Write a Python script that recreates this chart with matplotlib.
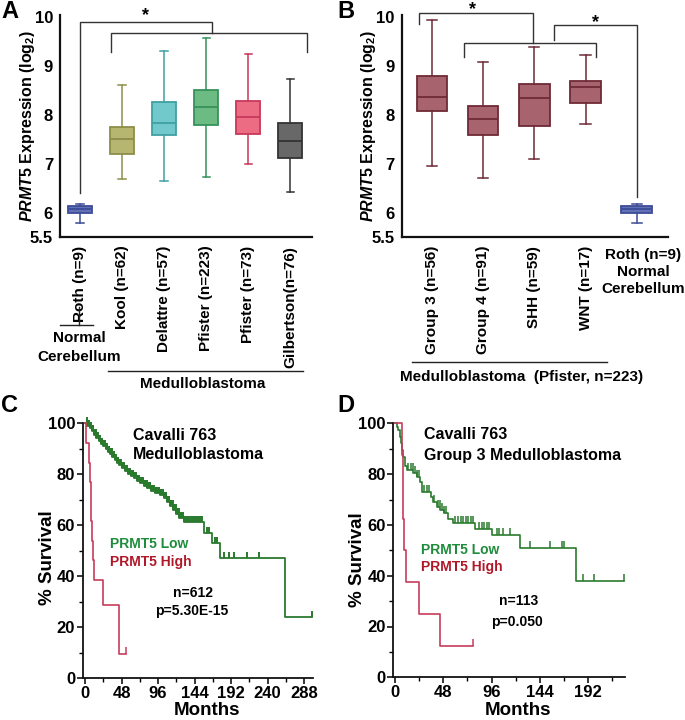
import numpy as np
import matplotlib
matplotlib.use('Agg')
import matplotlib.pyplot as plt
from matplotlib.lines import Line2D

plt.rcParams['font.family'] = ['Liberation Sans', 'DejaVu Sans']
plt.rcParams['font.weight'] = 'bold'
plt.rcParams['mathtext.fontset'] = 'custom'
plt.rcParams['mathtext.rm'] = 'Liberation Sans:bold'
plt.rcParams['mathtext.it'] = 'Liberation Sans:italic:bold'
plt.rcParams['mathtext.bf'] = 'Liberation Sans:bold'

# ---------------- Panel A data ----------------
a_labels = ['Roth (n=9)', 'Kool (n=62)', 'Delattre (n=57)', 'Pfister (n=223)',
            'Pfister (n=73)', 'Gilbertson(n=76)']
a_whislo = [5.80, 6.69, 6.66, 6.73, 7.00, 6.42]
a_q1 = [5.99, 7.20, 7.58, 7.79, 7.61, 7.11]
a_med = [6.07, 7.50, 7.84, 8.16, 7.95, 7.46]
a_q3 = [6.13, 7.76, 8.27, 8.51, 8.29, 7.83]
a_whishi = [6.19, 8.61, 9.31, 9.58, 9.25, 8.74]
a_fill = ['#6270b6', '#b6b670', '#72c9cb', '#6bbb82', '#ec6c84', '#686868']
a_edge = ['#3d4c96', '#8e8e4a', '#40a0a2', '#37925c', '#c8385a', '#333333']

# ---------------- Panel B data ----------------
b_labels = ['Group 3 (n=56)', 'Group 4 (n=91)', 'SHH (n=59)', 'WNT (n=17)']
b_roth_label = 'Roth (n=9)\nNormal\nCerebellum'
b_whislo = [6.95, 6.72, 7.10, 7.81, 5.80]
b_q1 = [8.07, 7.59, 7.78, 8.25, 5.99]
b_med = [8.37, 7.92, 8.34, 8.56, 6.07]
b_q3 = [8.80, 8.18, 8.63, 8.69, 6.13]
b_whishi = [9.93, 9.07, 9.39, 9.22, 6.19]
b_fill = ['#a8646e', '#a8646e', '#a8646e', '#a8646e', '#6270b6']
b_edge = ['#6e2a36', '#6e2a36', '#6e2a36', '#6e2a36', '#3d4c96']

yticks_ab = [5.5, 6, 7, 8, 9, 10]

# ---------------- Panel C data ----------------
c_low_t = [0, 3, 6, 9, 12, 15, 18, 21, 24, 27, 30, 33, 36, 39, 42, 45, 48, 52, 56, 60,
           64, 68, 72, 77, 82, 87, 92, 98, 104, 108, 112, 116, 120, 124, 130, 157, 167,
           178, 263]
c_low_s = [100, 99, 98, 96.8, 95.6, 94.4, 93.2, 92, 91, 89.8, 88.8, 87.8, 86.6, 85.6,
           84.6, 83.6, 82.6, 81.4, 80.3, 79.3, 78.4, 77.5, 76.7, 75.6, 74.5, 73.5, 72.5,
           71.9, 70.6, 69.2, 67.6, 66.0, 64.6, 63.0, 61.2, 57.0, 52.9, 47.3, 23.9]
c_low_end = 298
c_low_cens = [2, 3, 4, 5, 6, 7, 8, 9, 10, 11, 12, 13, 14, 15, 16, 17, 18, 19, 20, 21, 22,
              23, 24, 25, 26, 27, 28, 29, 30, 31, 32, 33, 34, 35, 36, 37, 38, 39, 40, 41,
              42, 43, 44, 45, 46, 47, 48, 49, 50, 51, 52, 53, 54, 55, 56, 57, 58, 59, 60,
              61, 62, 63, 64, 65, 66, 67, 68, 69, 70, 71, 72, 73, 74, 75, 76, 77, 78, 79,
              80, 81, 82, 83, 84, 85, 86, 87, 88, 89, 90, 91, 92, 93, 94, 95, 96, 97, 98,
              99, 100, 101, 102, 103, 104, 105, 106, 107, 108, 109, 110, 111, 112, 113,
              114, 115, 116, 117, 118, 119, 120, 121, 122, 123, 124, 125, 126, 127, 128,
              129, 130, 132, 134, 136, 138, 140, 142, 144, 146, 148, 150, 152, 154, 160,
              163, 171, 174, 183, 189, 196, 213, 228, 298]
c_high_t = [0, 1, 5.5, 6.5, 7.5, 8.5, 9.5, 10.5, 12, 23.5, 45]
c_high_s = [100, 92.3, 84.6, 76.9, 69.2, 61.5, 53.8, 46.2, 38.5, 28.8, 9.6]
c_high_end = 54
c_high_cens = [54]
c_xticks = [0, 48, 96, 144, 192, 240, 288]

# ---------------- Panel D data ----------------
d_low_t = [0, 1.7, 3.3, 5, 6, 7, 8.3, 9.9, 11.6, 18, 21.5, 25, 26.5, 36, 38, 41.4, 45,
           48.3, 53, 58, 79.5, 96, 124, 179.5]
d_low_s = [100, 98.7, 97.4, 94.8, 92.2, 89.6, 86.9, 83.3, 81.6, 80.6, 79.0, 77.0, 73.1,
           71.0, 69.0, 67.2, 65.9, 64.6, 62.3, 60.6, 58.3, 56.0, 50.8, 38.1]
d_low_end = 228
d_low_cens = [13.2, 15.6, 17.5, 19.9, 22.2, 24.2, 28.8, 32.1, 34.1, 39.1, 43, 44.7, 46.4,
              48.7, 50.7, 59.6, 62.9, 65.2, 67.9, 70.5, 72.8, 75.2, 77.2, 83.8, 86.1,
              88.4, 91.1, 93.7, 101, 103.6, 107, 114.2, 134.1, 154, 165.6, 167.9, 186.4,
              197.7, 227.8]
d_high_t = [0, 6.6, 8.3, 9.3, 10.6, 23.8, 44.7]
d_high_s = [100, 87.5, 62.5, 50, 37.5, 25, 12.5]
d_high_end = 77.2
d_high_cens = [77.2]
d_xticks = [0, 48, 96, 144, 192]

surv_yticks = [0, 20, 40, 60, 80, 100]

GREEN = '#2a7a2e'
RED = '#c83c5a'
GREEN_TXT = '#1f8c3c'
RED_TXT = '#b01828'

W, H = 685, 720
fig = plt.figure(figsize=(W / 100, H / 100), dpi=100)


def px_axes(left, top, right, bottom):
    return fig.add_axes([left / W, 1 - bottom / H, (right - left) / W, (bottom - top) / H])


def ft(x, y, s, **kw):
    kw.setdefault('ha', 'center')
    kw.setdefault('va', 'center')
    return fig.text(x / W, 1 - y / H, s, **kw)


def fline(x0, y0, x1, y1, lw=1.0, color='#222222'):
    fig.add_artist(Line2D([x0 / W, x1 / W], [1 - y0 / H, 1 - y1 / H],
                          transform=fig.transFigure, color=color, lw=lw))


def boxes(ax, whislo, q1, med, q3, whishi, fills, edges, width, capw):
    stats = []
    for i in range(len(med)):
        stats.append(dict(whislo=whislo[i], q1=q1[i], med=med[i], q3=q3[i],
                          whishi=whishi[i], fliers=[]))
    pos = list(range(len(med)))
    r = ax.bxp(stats, positions=pos, widths=width, patch_artist=True,
               showfliers=False, capwidths=capw)
    for i in range(len(med)):
        r['boxes'][i].set(facecolor=fills[i], edgecolor=edges[i], linewidth=1.3)
        r['medians'][i].set(color=edges[i], linewidth=1.3)
        for k in (2 * i, 2 * i + 1):
            r['whiskers'][k].set(color=edges[i], linewidth=1.1)
            r['caps'][k].set(color=edges[i], linewidth=1.1)


def style_box_axes(ax, xlim):
    ax.set_xlim(*xlim)
    ax.set_ylim(5.5, 10.04)
    for s in ('top', 'right'):
        ax.spines[s].set_visible(False)
    for s in ('left', 'bottom'):
        ax.spines[s].set_linewidth(1.6)
        ax.spines[s].set_color('#111111')
    ax.set_yticks(yticks_ab)
    ax.set_yticklabels([('%g' % v) for v in yticks_ab], fontsize=12, fontweight='bold')
    ax.tick_params(axis='both', length=0)
    ax.tick_params(axis='y', pad=5)
    ax.tick_params(axis='x', pad=6)


def bracket(ax, x0, x1, y, yl0, yl1):
    ax.plot([x0, x0, x1, x1], [yl0, y, y, yl1], color='#333333', lw=1.0,
            clip_on=False, solid_joinstyle='miter')


# ---------------- Panel A ----------------
axA = px_axes(60, 15, 312, 237.3)
boxes(axA, a_whislo, a_q1, a_med, a_q3, a_whishi, a_fill, a_edge, 0.57, 0.17)
style_box_axes(axA, (-0.476, 5.52))
axA.set_xticks(range(len(a_labels)))
axA.set_xticklabels(a_labels, rotation=90, fontsize=11, fontweight='bold', va='top')
bracket(axA, 0, 3.14, 9.89, 6.40, 9.67)
bracket(axA, 0.74, 5.40, 9.67, 9.29, 9.29)
axA.text(1.57, 10.2, '*', ha='center', va='top', fontsize=13, fontweight='bold',
         clip_on=False)

ft(28, 126, r'$\it{PRMT5}$ Expression (log$_2$)', rotation=90, fontsize=11.5,
   fontweight='bold')
fline(60, 325, 93, 325)
fline(79, 307, 79, 325)
ft(79, 338, 'Normal', fontsize=11, fontweight='bold')
ft(79, 357, 'Cerebellum', fontsize=11, fontweight='bold')
fline(108, 371, 303, 371)
ft(203, 384, 'Medulloblastoma', fontsize=11, fontweight='bold')
ft(10, 11, 'A', fontsize=17, fontweight='bold')

# ---------------- Panel B ----------------
axB = px_axes(401.7, 15, 668, 237.3)
boxes(axB, b_whislo, b_q1, b_med, b_q3, b_whishi, b_fill, b_edge, 0.6, 0.2)
style_box_axes(axB, (-0.59, 4.61))
axB.set_xticks(range(len(b_labels)))
axB.set_xticklabels(b_labels, rotation=90, fontsize=11, fontweight='bold', va='top')
bracket(axB, -0.25, 1.98, 10.09, 9.86, 9.46)
bracket(axB, 0.63, 3.20, 9.46, 9.19, 9.19)
bracket(axB, 2.39, 4.0, 9.84, 9.53, 6.33)
axB.text(0.80, 10.33, '*', ha='center', va='top', fontsize=13, fontweight='bold',
         clip_on=False)
axB.text(3.20, 10.06, '*', ha='center', va='top', fontsize=13, fontweight='bold',
         clip_on=False)

ft(369, 126, r'$\it{PRMT5}$ Expression (log$_2$)', rotation=90, fontsize=11.5,
   fontweight='bold')
ft(643, 272, b_roth_label, fontsize=11, fontweight='bold', linespacing=1.25)
fline(412, 362, 607, 362)
ft(522, 377, 'Medulloblastoma  (Pfister, n=223)', fontsize=11, fontweight='bold')
ft(346, 12, 'B', fontsize=17, fontweight='bold')


# ---------------- Survival panels ----------------
def surv_at(t, s, tc):
    idx = np.searchsorted(np.asarray(t), np.asarray(tc), side='right') - 1
    return np.asarray(s)[idx]


def km(ax, t, s, end, cens, color, lw, ms=5, mew=1.1):
    tt = list(t) + [end]
    ss = list(s) + [s[-1]]
    ax.step(tt, ss, where='post', color=color, lw=lw, clip_on=False)
    ax.plot(cens, surv_at(t, s, cens), linestyle='none', marker=2, markersize=ms,
            markeredgewidth=mew, color=color, clip_on=False)


def style_surv(ax, xlim, xticks):
    ax.set_xlim(*xlim)
    ax.set_ylim(0, 100)
    for s in ('top', 'right'):
        ax.spines[s].set_visible(False)
    for s in ('left', 'bottom'):
        ax.spines[s].set_linewidth(1.3)
        ax.spines[s].set_color('#111111')
    ax.set_xticks(xticks)
    ax.set_xticklabels([str(v) for v in xticks], fontsize=12, fontweight='bold')
    ax.set_xticks([v + 24 for v in xticks if v + 24 < xlim[1]], minor=True)
    ax.set_yticks(surv_yticks)
    ax.set_yticklabels([str(v) for v in surv_yticks], fontsize=12, fontweight='bold')
    ax.set_yticks([v + 10 for v in surv_yticks[:-1]], minor=True)
    ax.tick_params(which='major', length=4, width=1.1, pad=1.5)
    ax.tick_params(which='minor', length=3, width=1.0)


# Panel C
axC = px_axes(82.7, 423.3, 313.3, 678.3)
km(axC, c_low_t, c_low_s, c_low_end, c_low_cens, GREEN, 1.3, ms=4.5, mew=1.4)
km(axC, c_high_t, c_high_s, c_high_end, c_high_cens, RED, 1.2)
style_surv(axC, (-3, 300), c_xticks)
axC.text(63, 95.4, 'Cavalli 763', fontsize=11.5, fontweight='bold', va='center')
axC.text(63, 87.6, 'Medulloblastoma', fontsize=11.5, fontweight='bold', va='center')
axC.text(33, 52.7, 'PRMT5 Low', fontsize=10, fontweight='bold', va='center',
         color=GREEN_TXT)
axC.text(33, 45.7, 'PRMT5 High', fontsize=10, fontweight='bold', va='center',
         color=RED_TXT)
axC.text(142, 33.6, 'n=612', fontsize=10, fontweight='bold', va='center', ha='center')
axC.text(140, 26.5, 'p=5.30E-15', fontsize=10, fontweight='bold', va='center',
         ha='center')
ft(48, 558, '% Survival', rotation=90, fontsize=13.5, fontweight='bold')
ft(207, 715, 'Months', fontsize=13.5, fontweight='bold', va='baseline')
ft(9, 405, 'C', fontsize=17, fontweight='bold')

# Panel D
axD = px_axes(393.3, 423.3, 625, 677.3)
km(axD, d_low_t, d_low_s, d_low_end, d_low_cens, GREEN, 1.2)
km(axD, d_high_t, d_high_s, d_high_end, d_high_cens, RED, 1.2)
style_surv(axD, (-1.7, 228.5), d_xticks)
axD.text(29, 95.4, 'Cavalli 763', fontsize=11.5, fontweight='bold', va='center')
axD.text(29, 87.5, 'Group 3 Medulloblastoma', fontsize=11.5, fontweight='bold',
         va='center')
axD.text(26, 50.1, 'PRMT5 Low', fontsize=10, fontweight='bold', va='center',
         color=GREEN_TXT)
axD.text(26, 43.6, 'PRMT5 High', fontsize=10, fontweight='bold', va='center',
         color=RED_TXT)
axD.text(122.5, 30, 'n=113', fontsize=10, fontweight='bold', va='center', ha='center')
axD.text(121, 21.9, 'p=0.050', fontsize=10, fontweight='bold', va='center',
         ha='center')
ft(357, 560, '% Survival', rotation=90, fontsize=13.5, fontweight='bold')
ft(518, 715, 'Months', fontsize=13.5, fontweight='bold', va='baseline')
ft(346, 406, 'D', fontsize=17, fontweight='bold')

fig.savefig('out.png', dpi=100)
